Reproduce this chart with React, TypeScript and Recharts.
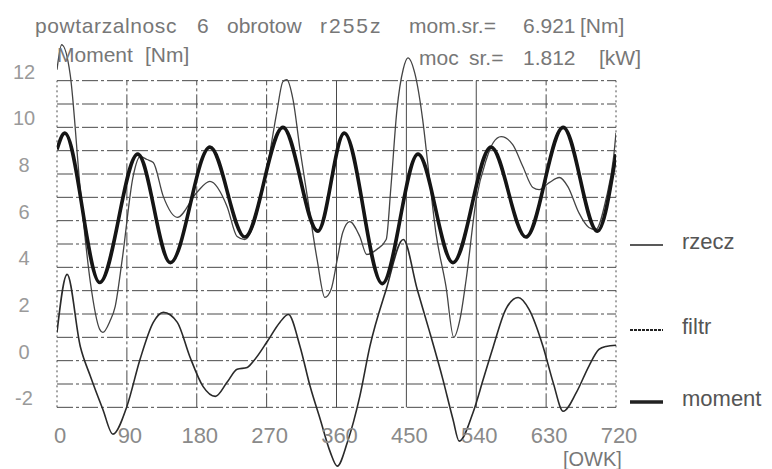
import { Legend, Line, LineChart, ReferenceLine, XAxis, YAxis } from 'recharts';

const FONT = '"Liberation Sans", Arial, sans-serif';

// osie
const xTicks = [0, 90, 180, 270, 360, 450, 540, 630, 720];
const yTicks = [-2, 0, 2, 4, 6, 8, 10, 12];
const gridLevels = [-2, -1, 0, 1, 2, 3, 4, 5, 6, 7, 8, 9, 10, 11, 12];

// moment (gruba linia)
const momentDeg = [0, 10, 55, 104, 146, 197, 242, 291, 336, 370, 419, 465, 510, 559, 604, 652, 696, 720];
const momentNm = [9.05, 9.75, 3.35, 8.85, 4.2, 9.15, 5.3, 10.0, 5.55, 9.75, 3.3, 8.85, 4.2, 9.15, 5.3, 10.0, 5.55, 8.85];

// rzecz (cienka linia u gory)
const rzeczDeg = [
  0, 6, 17, 30, 43, 55, 59, 68, 75, 84, 98, 107, 116, 124, 137, 155, 180, 197, 219, 232,
  242, 262, 271, 283, 291, 296, 304, 313, 323, 335, 345, 353, 361, 368, 377, 390, 399, 412, 424, 430,
  438, 446, 452, 461, 471, 478, 488, 501, 511, 519, 527, 540, 553, 562, 572, 587, 600, 613, 621, 634,
  647, 658, 672, 685, 694, 707, 717, 720
];
const rzeczNm = [
  12.47, 13.54, 12.26, 7.33, 3.35, 1.34, 1.21, 1.68, 2.33, 4.34, 7.89, 8.75, 8.62, 8.49, 7.03, 6.14, 7.21, 7.68, 6.61, 5.32,
  5.19, 6.91, 8.32, 10.63, 11.96, 12.04, 11.19, 9.05, 6.91, 4.34, 2.71, 3.05, 4.34, 5.49, 5.96, 5.32, 4.55, 4.77, 5.19, 7.4,
  10.8, 12.5, 12.98, 12.3, 10.33, 8.32, 5.49, 3.18, 1.0, 1.77, 3.48, 6.91, 8.62, 9.35, 9.6, 9.26, 8.32, 7.42, 7.33, 7.63,
  7.85, 7.46, 6.35, 5.71, 5.62, 6.91, 8.75, 9.77
];

// filtr (dolna linia)
const filtrDeg = [
  0, 13, 30, 43, 59, 72, 90, 107, 124, 137, 155, 171, 188, 204, 219, 232, 245, 255, 271, 287,
  298, 313, 326, 339, 352, 361, 374, 390, 403, 424, 446, 464, 479, 497, 510, 518, 536, 549, 562, 578,
  594, 608, 626, 639, 652, 669, 685, 698, 707, 720
];
const filtrNm = [
  1.21, 3.7, 0.61, -0.67, -2.08, -3.15, -1.96, 0.06, 1.64, 2.07, 1.64, 0.18, -1.1, -1.53, -0.93, -0.37, -0.29, 0.06, 0.83, 1.64,
  1.98, 0.61, -1.1, -2.51, -3.92, -4.52, -3.5, -1.53, 0.61, 3.05, 5.19, 3.05, 1.34, -0.8, -2.51, -3.45, -2.21, -0.8, 0.61, 2.2,
  2.71, 2.2, 0.61, -0.93, -2.17, -1.36, -0.24, 0.48, 0.61, 0.66
];

const toRows = (deg: number[], nm: number[]) => deg.map((d, i) => ({ deg: d, nm: nm[i] }));

const momentData = toRows(momentDeg, momentNm);
const rzeczData = toRows(rzeczDeg, rzeczNm);
const filtrData = toRows(filtrDeg, filtrNm);

const gridColor = '#4a4a4a';

function verticalDash(v: number) {
  if (v === 0 || v === 720) return '2 3';
  if (v === 360 || v === 450 || v === 540) return undefined;
  return '14 3 3 3';
}

// etykiety osi X leza pod siatka, nie na dole obszaru wykresu
function XTick({ x, payload }: any) {
  return (
    <text x={x + 3} y={443} textAnchor="middle" fill="#8a8a8a" fontSize={22} fontFamily={FONT}>
      {payload.value}
    </text>
  );
}

function YTick({ y, payload }: any) {
  return (
    <text x={24} y={y - 2} textAnchor="middle" fill="#9a9a9a" fontSize={20} fontFamily={FONT}>
      {payload.value}
    </text>
  );
}

const legendRows = [
  { name: 'rzecz', top: 14, width: 1.3, dash: undefined },
  { name: 'filtr', top: 99, width: 2.2, dash: '3 1' },
  { name: 'moment', top: 171, width: 3.5, dash: undefined }
];

function renderLegend() {
  return (
    <div style={{ position: 'relative', width: 142, height: 190, fontFamily: FONT }}>
      {legendRows.map((row) => (
        <div key={row.name} style={{ position: 'absolute', left: 0, top: row.top - 12, height: 24, width: 142 }}>
          <svg width={36} height={24} style={{ position: 'absolute', left: 0, top: 0 }}>
            <line x1={0} x2={33} y1={15} y2={15} stroke="#222" strokeWidth={row.width} strokeDasharray={row.dash} />
          </svg>
          <span style={{ position: 'absolute', left: 52, top: 0, fontSize: 22, lineHeight: '24px', color: '#555' }}>
            {row.name}
          </span>
        </div>
      ))}
    </div>
  );
}

const textStyle = {
  position: 'absolute' as const,
  fontFamily: FONT,
  fontSize: 21,
  lineHeight: '22px',
  color: '#777',
  whiteSpace: 'pre' as const
};

export default function App() {
  return (
    <div style={{ position: 'absolute', left: 0, top: 0, width: 772, height: 469, background: '#fff' }}>
      <LineChart width={772} height={469} margin={{ top: 20, right: 156, bottom: 0, left: 0 }}>
        <XAxis
          type="number"
          dataKey="deg"
          domain={[0, 720]}
          ticks={xTicks}
          allowDataOverflow
          axisLine={false}
          tickLine={false}
          height={1}
          interval={0}
          tick={<XTick />}
        />
        {/* zakres szerszy niz siatka, bo krzywe wychodza poza -2..12 */}
        <YAxis
          type="number"
          domain={[-4.6, 14.6]}
          ticks={yTicks}
          allowDataOverflow
          axisLine={false}
          tickLine={false}
          width={57}
          interval={0}
          tick={<YTick />}
        />
        {gridLevels.map((v) => (
          <ReferenceLine key={`h${v}`} y={v} stroke={gridColor} strokeWidth={1} strokeDasharray="16 3 3 3" />
        ))}
        {xTicks.map((v) => (
          <ReferenceLine
            key={`v${v}`}
            segment={[{ x: v, y: -2 }, { x: v, y: 12 }]}
            stroke={gridColor}
            strokeWidth={1}
            strokeDasharray={verticalDash(v)}
          />
        ))}
        <Line data={filtrData} dataKey="nm" type="monotone" stroke="#2a2a2a" strokeWidth={1.6} dot={false} isAnimationActive={false} />
        <Line data={rzeczData} dataKey="nm" type="monotone" stroke="#444" strokeWidth={1.3} dot={false} isAnimationActive={false} />
        <Line data={momentData} dataKey="nm" type="monotone" stroke="#151515" strokeWidth={3.6} dot={false} isAnimationActive={false} />
        <Legend
          layout="horizontal"
          align="center"
          verticalAlign="middle"
          wrapperStyle={{ left: 630, top: 228, width: 142 }}
          content={renderLegend}
        />
      </LineChart>

      <div style={{ ...textStyle, left: 35, top: 15, letterSpacing: 0.6 }}>powtarzalnosc</div>
      <div style={{ ...textStyle, left: 197, top: 15 }}>6</div>
      <div style={{ ...textStyle, left: 227, top: 15 }}>obrotow</div>
      <div style={{ ...textStyle, left: 320, top: 15, letterSpacing: 2 }}>r255z</div>
      <div style={{ ...textStyle, left: 409, top: 15 }}>mom.sr.=</div>
      <div style={{ ...textStyle, left: 523, top: 15 }}>6.921</div>
      <div style={{ ...textStyle, left: 580, top: 15 }}>[Nm]</div>

      <div style={{ ...textStyle, left: 57, top: 44 }}>Moment</div>
      <div style={{ ...textStyle, left: 145, top: 44 }}>[Nm]</div>
      <div style={{ ...textStyle, left: 419, top: 47 }}>moc</div>
      <div style={{ ...textStyle, left: 469, top: 47 }}>sr.=</div>
      <div style={{ ...textStyle, left: 523, top: 47 }}>1.812</div>
      <div style={{ ...textStyle, left: 599, top: 47 }}>[kW]</div>

      <div style={{ ...textStyle, left: 563, top: 449, fontSize: 20, lineHeight: '20px' }}>[OWK]</div>
    </div>
  );
}
